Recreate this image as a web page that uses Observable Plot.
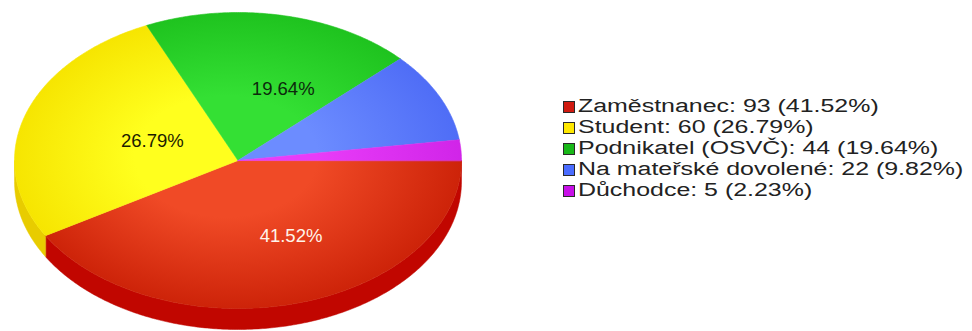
<!DOCTYPE html>
<html><head><meta charset="utf-8">
<script src="https://cdn.jsdelivr.net/npm/d3@7"></script>
<script src="https://cdn.jsdelivr.net/npm/@observablehq/plot@0.6"></script>
<style>
body{margin:0;background:#fff;font-family:"Liberation Sans",Arial,sans-serif;}
#wrap{position:relative;width:972px;height:331px;overflow:hidden;}
#legend{position:absolute;left:563px;top:96px;}
.row{display:flex;align-items:center;height:21px;white-space:nowrap;}
.sw{width:10px;height:10px;border:1.5px solid #2a2a2a;margin-right:3px;flex:none;}
.lt{font-size:18px;color:#222;transform:scaleX(1.385);transform-origin:left center;display:inline-block;}
</style></head><body><div id="wrap"><div id="legend"></div></div>
<script>
const categories = ["Zaměstnanec", "Student", "Podnikatel (OSVČ)", "Na mateřské dovolené", "Důchodce"];
const counts = [93, 60, 44, 22, 5];
const topInner = ["#f04a26", "#ffff1e", "#34e034", "#6c8cff", "#e83cf8"];
const topOuter = ["#cc2208", "#f6e400", "#1ec21e", "#4e6cf6", "#d024e8"];
const sideColors = ["#c10600", "#e8cc00", "#14a014", "#3858e0", "#b010c8"];
const swatchColors = ["#d01a10", "#ffe800", "#18b818", "#4a6cff", "#c810e8"];
const labelColors = ["#fff4ea", "#1c1c00", "#0c2a0c", "#111", "#111"];

const xRange = [14, 461], yRange = [12, 308];
const depth = 21 / 148;
const total = d3.sum(counts);
const pct = counts.map(c => (100 * c / total).toFixed(2) + "%");
const arcs = d3.pie().sort(null).startAngle(Math.PI / 2).endAngle(Math.PI / 2 + 2 * Math.PI)(counts);

function arcPoints(t0, t1, dz) {
  const n = Math.max(2, Math.ceil((t1 - t0) / 0.01));
  return d3.range(n + 1).map(i => {
    const t = t0 + (t1 - t0) * i / n;
    return {x: Math.cos(t), y: Math.sin(t) + dz};
  });
}

const marks = [];
arcs.forEach((a, i) => {
  const t0 = a.startAngle - Math.PI / 2, t1 = a.endAngle - Math.PI / 2;
  const s0 = Math.max(t0, 0), s1 = Math.min(t1, Math.PI);
  if (s1 > s0) {
    const pts = arcPoints(s0, s1, 0).concat(arcPoints(s0, s1, depth).reverse());
    marks.push(Plot.line(pts, {x: "x", y: "y", curve: "linear-closed", fill: sideColors[i], stroke: sideColors[i], strokeWidth: 0.5}));
  }
});
arcs.forEach((a, i) => {
  const t0 = a.startAngle - Math.PI / 2, t1 = a.endAngle - Math.PI / 2;
  const pts = [{x: 0, y: 0}].concat(arcPoints(t0, t1, 0));
  marks.push(Plot.line(pts, {x: "x", y: "y", curve: "linear-closed", fill: `url(#g${i})`, stroke: `url(#g${i})`, strokeWidth: 0.6}));
});
arcs.forEach((a, i) => {
  if (counts[i] / total < 0.1) return;
  const tm = (a.startAngle + a.endAngle) / 2 - Math.PI / 2;
  marks.push(Plot.text([{x: 0.51 * Math.cos(tm), y: 0.51 * Math.sin(tm), t: pct[i]}], {
    x: "x", y: "y", text: "t", fontSize: 18.5, fontFamily: "Liberation Sans, Arial, sans-serif",
    fill: labelColors[i], dx: 23, dy: 3, textAnchor: "middle"
  }));
});

const svg = Plot.plot({
  width: 972, height: 331, margin: 0,
  x: {domain: [-1, 1], range: xRange, axis: null},
  y: {domain: [-1, 1], range: yRange, axis: null},
  marks
});

const ns = "http://www.w3.org/2000/svg";
const defs = document.createElementNS(ns, "defs");
const cx = (xRange[0] + xRange[1]) / 2, cy = (yRange[0] + yRange[1]) / 2;
const rx = (xRange[1] - xRange[0]) / 2, ry = (yRange[1] - yRange[0]) / 2;
topInner.forEach((c, i) => {
  const g = document.createElementNS(ns, "radialGradient");
  g.setAttribute("id", "g" + i);
  g.setAttribute("gradientUnits", "userSpaceOnUse");
  g.setAttribute("cx", cx); g.setAttribute("cy", cy);
  g.setAttribute("fx", cx - 20); g.setAttribute("fy", cy - 10);
  g.setAttribute("r", rx * 1.02);
  g.setAttribute("gradientTransform", `translate(${cx},${cy}) scale(1,${ry / rx}) translate(${-cx},${-cy})`);
  [[0, c], [0.4, c], [1, topOuter[i]]].forEach(([o, col]) => {
    const s = document.createElementNS(ns, "stop");
    s.setAttribute("offset", o); s.setAttribute("stop-color", col);
    g.appendChild(s);
  });
  defs.appendChild(g);
});
svg.insertBefore(defs, svg.firstChild);
document.getElementById("wrap").prepend(svg);

const legend = document.getElementById("legend");
categories.forEach((name, i) => {
  const row = document.createElement("div"); row.className = "row";
  const sw = document.createElement("span"); sw.className = "sw"; sw.style.background = swatchColors[i];
  const tx = document.createElement("span"); tx.className = "lt";
  tx.textContent = `${name}: ${counts[i]} (${pct[i]})`;
  row.appendChild(sw); row.appendChild(tx); legend.appendChild(row);
});
</script>
</body></html>
